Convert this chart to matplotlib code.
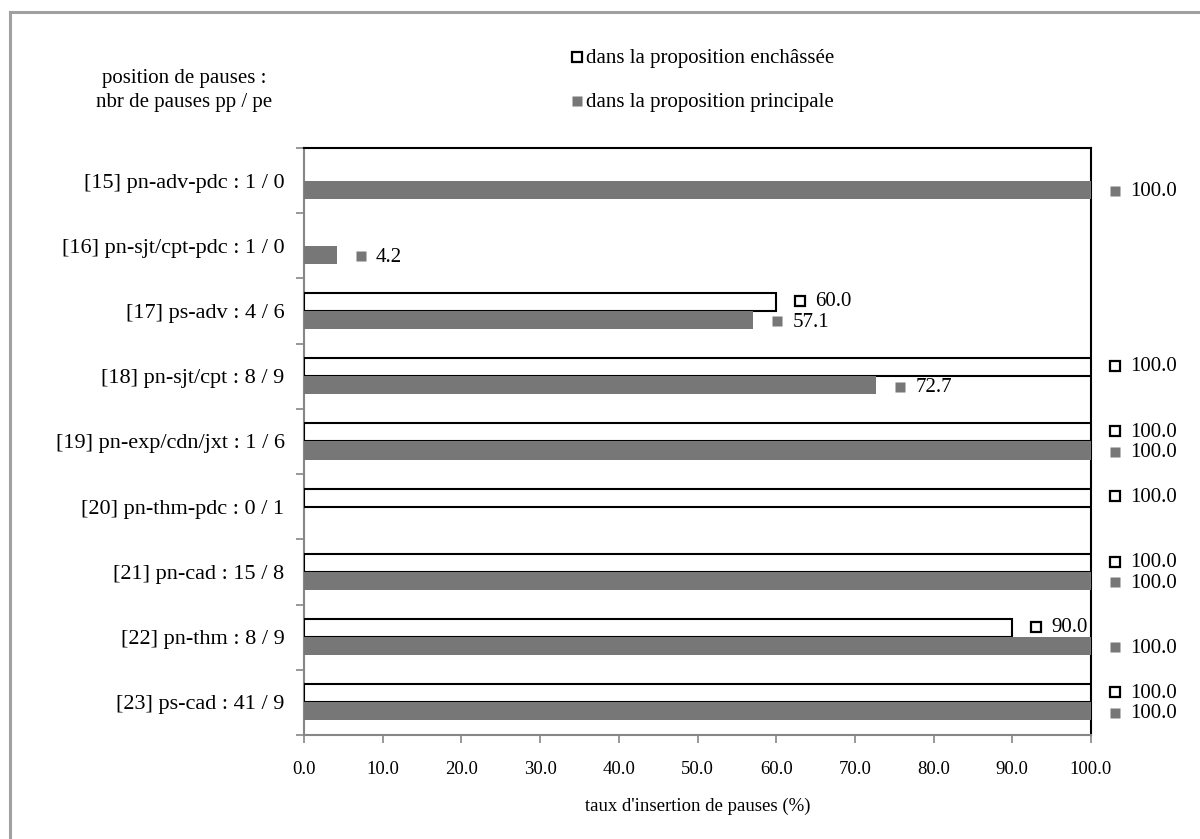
import matplotlib
matplotlib.use("Agg")
import matplotlib.pyplot as plt
import matplotlib.transforms as mtransforms
from matplotlib.lines import Line2D
import numpy as np

plt.rcParams['font.family'] = ['Liberation Serif', 'DejaVu Serif']

categories = [
    "[15] pn-adv-pdc : 1 / 0",
    "[16] pn-sjt/cpt-pdc : 1 / 0",
    "[17] ps-adv : 4 / 6",
    "[18] pn-sjt/cpt : 8 / 9",
    "[19] pn-exp/cdn/jxt : 1 / 6",
    "[20] pn-thm-pdc : 0 / 1",
    "[21] pn-cad : 15 / 8",
    "[22] pn-thm : 8 / 9",
    "[23] ps-cad : 41 / 9",
]
enchassee = [None, None, 60.0, 100.0, 100.0, 100.0, 100.0, 90.0, 100.0]
principale = [100.0, 4.2, 57.1, 72.7, 100.0, None, 100.0, 100.0, 100.0]
xticks = [0, 10, 20, 30, 40, 50, 60, 70, 80, 90, 100]
label_ench = "dans la proposition enchâssée"
label_princ = "dans la proposition principale"

W, H = 1200, 839
fig = plt.figure(figsize=(W / 100, H / 100), dpi=100)
fig.patch.set_facecolor("white")

def fx(px):
    return px / W

def fy(py):
    return 1 - py / H

# chart area border (left & top visible)
fig.add_artist(Line2D([fx(10), fx(10)], [fy(12), 0], color="#a0a0a0", lw=2.2))
fig.add_artist(Line2D([fx(10), 1], [fy(12), fy(12)], color="#a0a0a0", lw=2.2))

left, right, top, bottom = 304, 1091, 148, 735
ax = fig.add_axes([fx(left), fy(bottom), fx(right - left), (bottom - top) / H])

GRAY = "#777777"
n = len(categories)
y = np.arange(n)
h = 0.276
fs_cat = 16
fs_leg = 15
fs_val = 15
fs_x = 13.5

for i in range(n):
    if enchassee[i] is not None:
        ax.barh(y[i] - h / 2, enchassee[i], height=h, color="white",
                edgecolor="black", linewidth=1.5, zorder=3)
    if principale[i] is not None:
        ax.barh(y[i] + h / 2, principale[i], height=h, color=GRAY,
                edgecolor="none", zorder=3)

ax.set_xlim(0, 100)
ax.set_ylim(n - 0.5, -0.5)

# value labels with legend keys
def add_label(xv, yv, style):
    off = mtransforms.ScaledTranslation(24 / 100, 0, fig.dpi_scale_trans)
    tr = ax.transData + off
    if style == "white":
        ax.plot([xv], [yv], marker="s", ms=7, mfc="white", mec="black",
                mew=1.6, transform=tr, clip_on=False, zorder=5)
    else:
        ax.plot([xv], [yv], marker="s", ms=7.5, mfc=GRAY, mec="none",
                transform=tr, clip_on=False, zorder=5)
    ax.annotate(f"{xv:.1f}", (xv, yv), xytext=(39 * 0.72, -1 * 0.72),
                textcoords="offset points", ha="left", va="center",
                fontsize=fs_val, annotation_clip=False)

for i in range(n):
    if enchassee[i] is not None:
        add_label(enchassee[i], y[i] - h / 2 - 0.02, "white")
    if principale[i] is not None:
        add_label(principale[i], y[i] + h / 2 + 0.02, "gray")

# spines
for s in ["left", "bottom"]:
    ax.spines[s].set_color("#868686")
    ax.spines[s].set_linewidth(1.5)
for s in ["top", "right"]:
    ax.spines[s].set_color("black")
    ax.spines[s].set_linewidth(1.5)

ax.set_xticks(xticks)
ax.set_xticklabels([f"{v:.1f}" for v in xticks], fontsize=fs_x)
ax.tick_params(axis="x", direction="out", length=6, width=1.2, color="#868686", pad=13)

ax.set_yticks(np.arange(n + 1) - 0.5, minor=False)
ax.set_yticklabels([])
ax.tick_params(axis="y", which="major", direction="out", length=6, width=1.2, color="#868686")
ax.set_yticks(y, minor=True)
ax.set_yticklabels(categories, minor=True, fontsize=fs_cat)
ax.tick_params(axis="y", which="minor", length=0, pad=14)

ax.set_xlabel("taux d'insertion de pauses (%)", fontsize=fs_x, labelpad=14)

# header text
fig.text(fx(184), fy(79), "position de pauses :", ha="center", va="center", fontsize=fs_leg)
fig.text(fx(184), fy(103), "nbr de pauses pp / pe", ha="center", va="center", fontsize=fs_leg)

# legend
fig.add_artist(Line2D([fx(577)], [fy(57)], marker="s", ms=7, mfc="white",
                      mec="black", mew=1.6, ls="none"))
fig.add_artist(Line2D([fx(577)], [fy(101)], marker="s", ms=7.5, mfc=GRAY,
                      mec="none", ls="none"))
fig.text(fx(586), fy(59), label_ench, ha="left", va="center", fontsize=fs_leg)
fig.text(fx(586), fy(103), label_princ, ha="left", va="center", fontsize=fs_leg)

fig.savefig("out.png", dpi=100)
